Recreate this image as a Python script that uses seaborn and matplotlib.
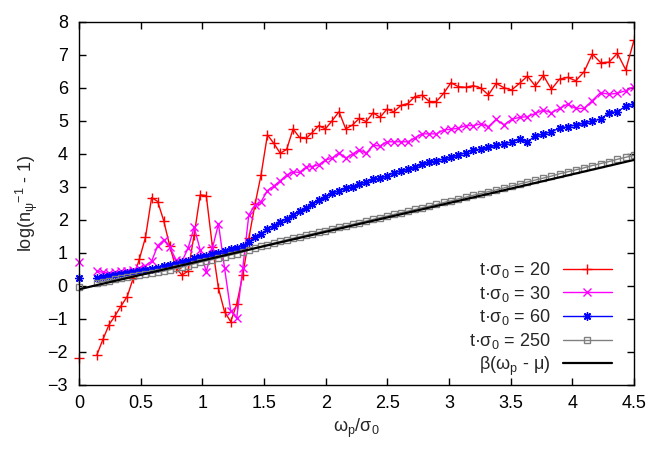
import matplotlib
matplotlib.use("Agg")
import matplotlib.pyplot as plt
import pandas as pd
import seaborn as sns

# -----------------------------
# DATA
# -----------------------------
omega = [
    0.0,
    0.145, 0.194, 0.244, 0.293, 0.342, 0.391, 0.441, 0.490, 0.539, 0.589,
    0.638, 0.687, 0.736, 0.786, 0.835, 0.884, 0.934, 0.983, 1.032, 1.082,
    1.131, 1.180, 1.230, 1.279, 1.328, 1.377, 1.427, 1.476,
    1.528, 1.580, 1.632, 1.684, 1.736, 1.788, 1.840, 1.892, 1.944, 1.998,
    2.053, 2.108, 2.163, 2.218, 2.273, 2.329, 2.385, 2.441, 2.497, 2.553,
    2.610, 2.667, 2.724, 2.782, 2.840, 2.898, 2.957, 3.016,
    3.076, 3.136, 3.197, 3.258, 3.320, 3.382, 3.445, 3.508, 3.572, 3.636,
    3.700, 3.765, 3.830, 3.896, 3.962, 4.028, 4.095, 4.162, 4.229, 4.297,
    4.365, 4.433, 4.500,
]

t20 = [
    -2.18,
    -2.09, -1.62, -1.17, -0.90, -0.60, -0.32, 0.25, 0.82, 1.47, 2.68,
    2.56, 1.98, 1.21, 0.55, 0.33, 0.45, 1.55, 2.76, 2.74, 1.19,
    -0.07, -0.78, -1.08, -0.55, 0.33, 1.44, 2.47, 3.36,
    4.58, 4.32, 4.02, 4.14, 4.76, 4.50, 4.47, 4.65, 4.86, 4.76,
    5.01, 5.28, 4.76, 4.88, 5.08, 4.98, 5.25, 5.11, 5.36, 5.28,
    5.47, 5.53, 5.74, 5.78, 5.59, 5.59, 5.84, 6.16,
    6.04, 6.02, 6.07, 6.00, 5.79, 6.14, 6.01, 5.94, 6.14, 6.36,
    6.06, 6.38, 5.96, 6.27, 6.32, 6.22, 6.49, 7.03, 6.77, 6.78,
    7.05, 6.55, 7.45,
]

t30 = [
    0.74,
    0.46, 0.41, 0.40, 0.42, 0.45, 0.45, 0.48, 0.55, 0.62, 0.75,
    1.22, 1.39, 1.18, 0.80, 0.75, 1.14, 1.78, 1.09, 0.43, 1.15,
    1.88, 0.55, -0.75, -0.98, 0.54, 2.15, 2.45, 2.55,
    2.89, 3.03, 3.19, 3.36, 3.46, 3.44, 3.60, 3.62, 3.67, 3.82,
    3.87, 4.04, 3.87, 4.00, 4.12, 4.02, 4.27, 4.24, 4.37, 4.37,
    4.37, 4.37, 4.49, 4.61, 4.61, 4.61, 4.73, 4.75,
    4.78, 4.86, 4.86, 4.91, 4.83, 5.05, 4.88, 5.05, 5.11, 5.13,
    5.23, 5.33, 5.25, 5.38, 5.51, 5.38, 5.38, 5.62, 5.86, 5.81,
    5.84, 5.92, 6.04,
]

t60 = [
    0.25,
    0.25, 0.28, 0.30, 0.33, 0.36, 0.39, 0.42, 0.45, 0.49, 0.52,
    0.56, 0.60, 0.64, 0.68, 0.72, 0.76, 0.84, 0.88, 0.92, 0.96,
    1.01, 1.06, 1.11, 1.16, 1.22, 1.33, 1.47, 1.58,
    1.72, 1.83, 1.94, 2.04, 2.15, 2.26, 2.37, 2.48, 2.60, 2.70,
    2.81, 2.89, 2.96, 3.01, 3.08, 3.16, 3.23, 3.26, 3.34, 3.43,
    3.49, 3.53, 3.60, 3.69, 3.75, 3.79, 3.85, 3.90,
    3.97, 4.04, 4.12, 4.14, 4.20, 4.27, 4.30, 4.37, 4.44, 4.37,
    4.55, 4.60, 4.68, 4.78, 4.83, 4.88, 4.93, 5.01, 5.05, 5.25,
    5.28, 5.45, 5.52,
]

t250 = [
    -0.03,
    0.10, 0.13, 0.16, 0.20, 0.24, 0.28, 0.31, 0.34, 0.36, 0.39,
    0.42, 0.45, 0.49, 0.53, 0.57, 0.62, 0.67, 0.72, 0.76, 0.80,
    0.85, 0.89, 0.94, 0.98, 1.03, 1.09, 1.15, 1.20,
    1.25, 1.30, 1.35, 1.40, 1.45, 1.49, 1.54, 1.58, 1.63, 1.68,
    1.73, 1.78, 1.82, 1.87, 1.92, 1.97, 2.02, 2.07, 2.12, 2.17,
    2.22, 2.27, 2.32, 2.37, 2.42, 2.47, 2.53, 2.58,
    2.64, 2.69, 2.75, 2.80, 2.86, 2.91, 2.97, 3.03, 3.09, 3.15,
    3.21, 3.27, 3.33, 3.40, 3.46, 3.52, 3.58, 3.65, 3.71, 3.77,
    3.84, 3.90, 3.96,
]

fit_x = [0.0, 4.5]
fit_y = [-0.10, 3.82]

x_ticks = [0, 0.5, 1, 1.5, 2, 2.5, 3, 3.5, 4, 4.5]
x_tick_labels = ["0", "0.5", "1", "1.5", "2", "2.5", "3", "3.5", "4", "4.5"]
y_ticks = [-3, -2, -1, 0, 1, 2, 3, 4, 5, 6, 7, 8]

# -----------------------------
# STYLE
# -----------------------------
sns.set_theme(style="ticks")
plt.rcParams["font.family"] = ["Liberation Sans", "DejaVu Sans"]
plt.rcParams["mathtext.fontset"] = "custom"
plt.rcParams["mathtext.rm"] = "Liberation Sans"
plt.rcParams["mathtext.it"] = "Liberation Sans"
plt.rcParams["mathtext.bf"] = "Liberation Sans:bold"

FS = 13

fig = plt.figure(figsize=(6.62, 4.63), dpi=100)
ax = fig.add_axes([0.1193, 0.1685, 0.8384, 0.784])

series = [
    (r"t·σ$_0$ = 20", t20, "#ff0000", "+", 6.5, 1.0, "none"),
    (r"t·σ$_0$ = 30", t30, "#ff00ff", "x", 5.5, 1.0, "none"),
    (r"t·σ$_0$ = 60", t60, "#0000ff", (8, 2, 0), 6.0, 1.0, "none"),
    (r"t·σ$_0$ = 250", t250, "#808080", "s", 4.5, 1.0, "none"),
]

# -----------------------------
# PLOT
# -----------------------------
for label, vals, color, marker, ms, mew, mfc in series:
    df = pd.DataFrame({"omega": omega[1:], "val": vals[1:]})
    sns.lineplot(
        data=df, x="omega", y="val", ax=ax, color=color, label=label,
        marker=marker, markersize=ms, markeredgewidth=mew,
        markeredgecolor=color, markerfacecolor=mfc, linewidth=1.0,
        errorbar=None,
    )
    # first sample at omega = 0 stands alone
    ax.plot(omega[0], vals[0], linestyle="none", marker=marker,
            markersize=ms, markeredgewidth=mew, markeredgecolor=color,
            markerfacecolor=mfc, clip_on=False)

sns.lineplot(x=fit_x, y=fit_y, ax=ax, color="black", linewidth=1.6,
             label=r"β(ω$_p$ - μ)", errorbar=None)

ax.set_xlim(0, 4.5)
ax.set_ylim(-3, 8)
ax.set_xticks(x_ticks)
ax.set_xticklabels(x_tick_labels)
ax.set_yticks(y_ticks)
ax.tick_params(direction="in", length=5, width=1, top=True, right=True,
               labelsize=FS, colors="black")
ax.tick_params(axis="x", pad=7)
ax.tick_params(axis="y", pad=8)
for sp in ax.spines.values():
    sp.set_linewidth(1.0)
    sp.set_color("black")

ax.set_xlabel(r"ω$_p$/σ$_0$", fontsize=FS, labelpad=4)
ax.set_ylabel(r"log(n$_\psi{}^{-1}$ - 1)", fontsize=FS, labelpad=5)

ax.legend(loc="lower right", bbox_to_anchor=(0.96, 0.02), frameon=False,
          markerfirst=False, handlelength=2.7, handletextpad=0.7,
          labelspacing=0.2, borderpad=0, borderaxespad=0, fontsize=FS)

fig.savefig("out.png", dpi=100)
